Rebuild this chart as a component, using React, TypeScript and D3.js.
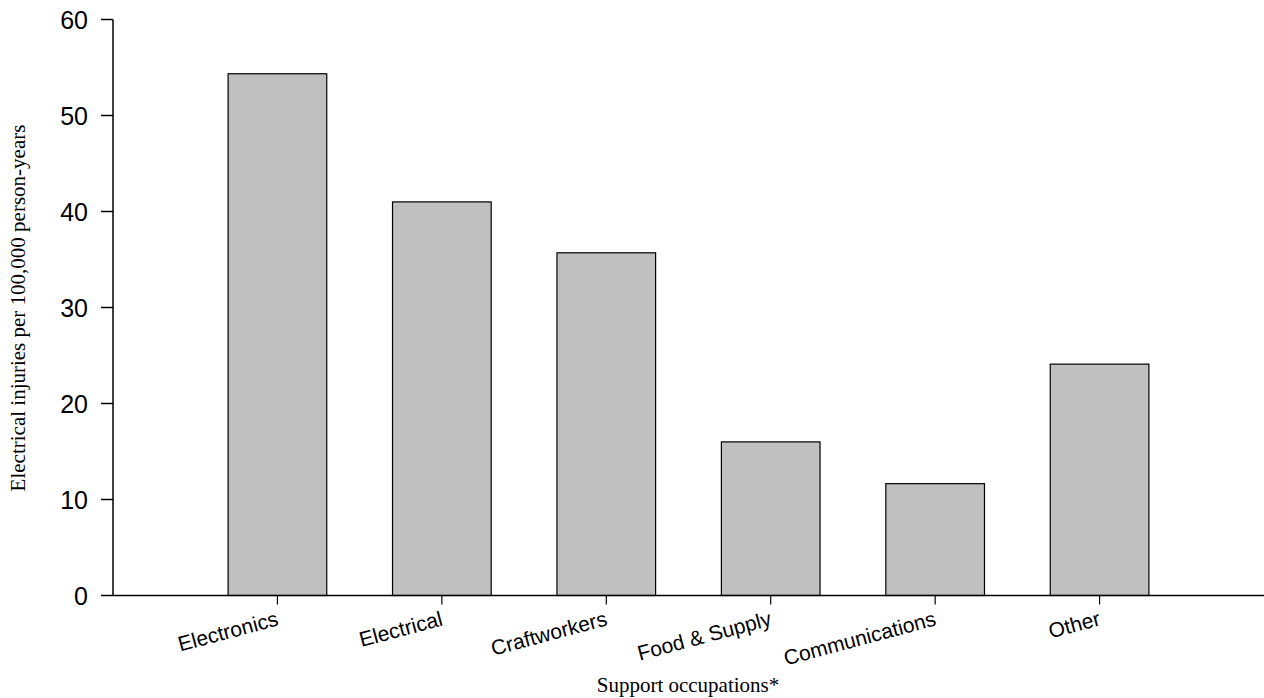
import React from "react";
import * as d3 from "d3";

const categories = ["Electronics", "Electrical", "Craftworkers", "Food & Supply", "Communications", "Other"];
const values = [54.35, 41.0, 35.7, 16.0, 11.65, 24.1];
const yTicks = [0, 10, 20, 30, 40, 50, 60];
const yTitle = "Electrical injuries per 100,000 person-years";
const xTitle = "Support occupations*";

const W = 1264;
const H = 698;

export default function App() {
  const x = d3.scaleLinear().domain([0, categories.length + 1]).range([113, 1264]);
  const step = x(1) - x(0);
  const bw = step * 0.6;
  const y = d3.scaleLinear().domain([0, 60]).range([595.5, 19.5]);
  const sans = "'Liberation Sans', Arial, sans-serif";
  const serif = "'Liberation Serif', 'Times New Roman', serif";

  return (
    <svg width={W} height={H} style={{ position: "absolute", left: 0, top: 0, background: "#fff" }}>
      {categories.map((c, i) => (
        <rect
          key={c}
          x={x(i + 1) - bw / 2}
          y={y(values[i])}
          width={bw}
          height={y(0) - y(values[i])}
          fill="#c0c0c0"
          stroke="#000"
          strokeWidth={1.2}
        />
      ))}
      {/* y axis */}
      <line x1={113} x2={113} y1={y(60)} y2={y(0)} stroke="#000" strokeWidth={1.5} />
      {yTicks.map((t) => (
        <g key={t}>
          <line x1={101} x2={113} y1={y(t)} y2={y(t)} stroke="#000" strokeWidth={1.5} />
          <text x={88} y={y(t)} dy="0.36em" textAnchor="end" fontFamily={sans} fontSize={25} fill="#000">
            {t}
          </text>
        </g>
      ))}
      {/* x axis */}
      <line x1={113} x2={1264} y1={y(0)} y2={y(0)} stroke="#000" strokeWidth={1.5} />
      {categories.map((c, i) => (
        <g key={c}>
          <line x1={x(i + 1)} x2={x(i + 1)} y1={y(0)} y2={y(0) + 9} stroke="#000" strokeWidth={1.2} />
          <text
            transform={`translate(${x(i + 1) + 2},625) rotate(-15)`}
            textAnchor="end"
            fontFamily={sans}
            fontSize={21}
            fill="#000"
          >
            {c}
          </text>
        </g>
      ))}
      <text x={688} y={692} textAnchor="middle" fontFamily={serif} fontSize={21} fill="#000">
        {xTitle}
      </text>
      <text
        transform={`translate(25,308) rotate(-90)`}
        textAnchor="middle"
        fontFamily={serif}
        fontSize={21}
        fill="#000"
      >
        {yTitle}
      </text>
    </svg>
  );
}
